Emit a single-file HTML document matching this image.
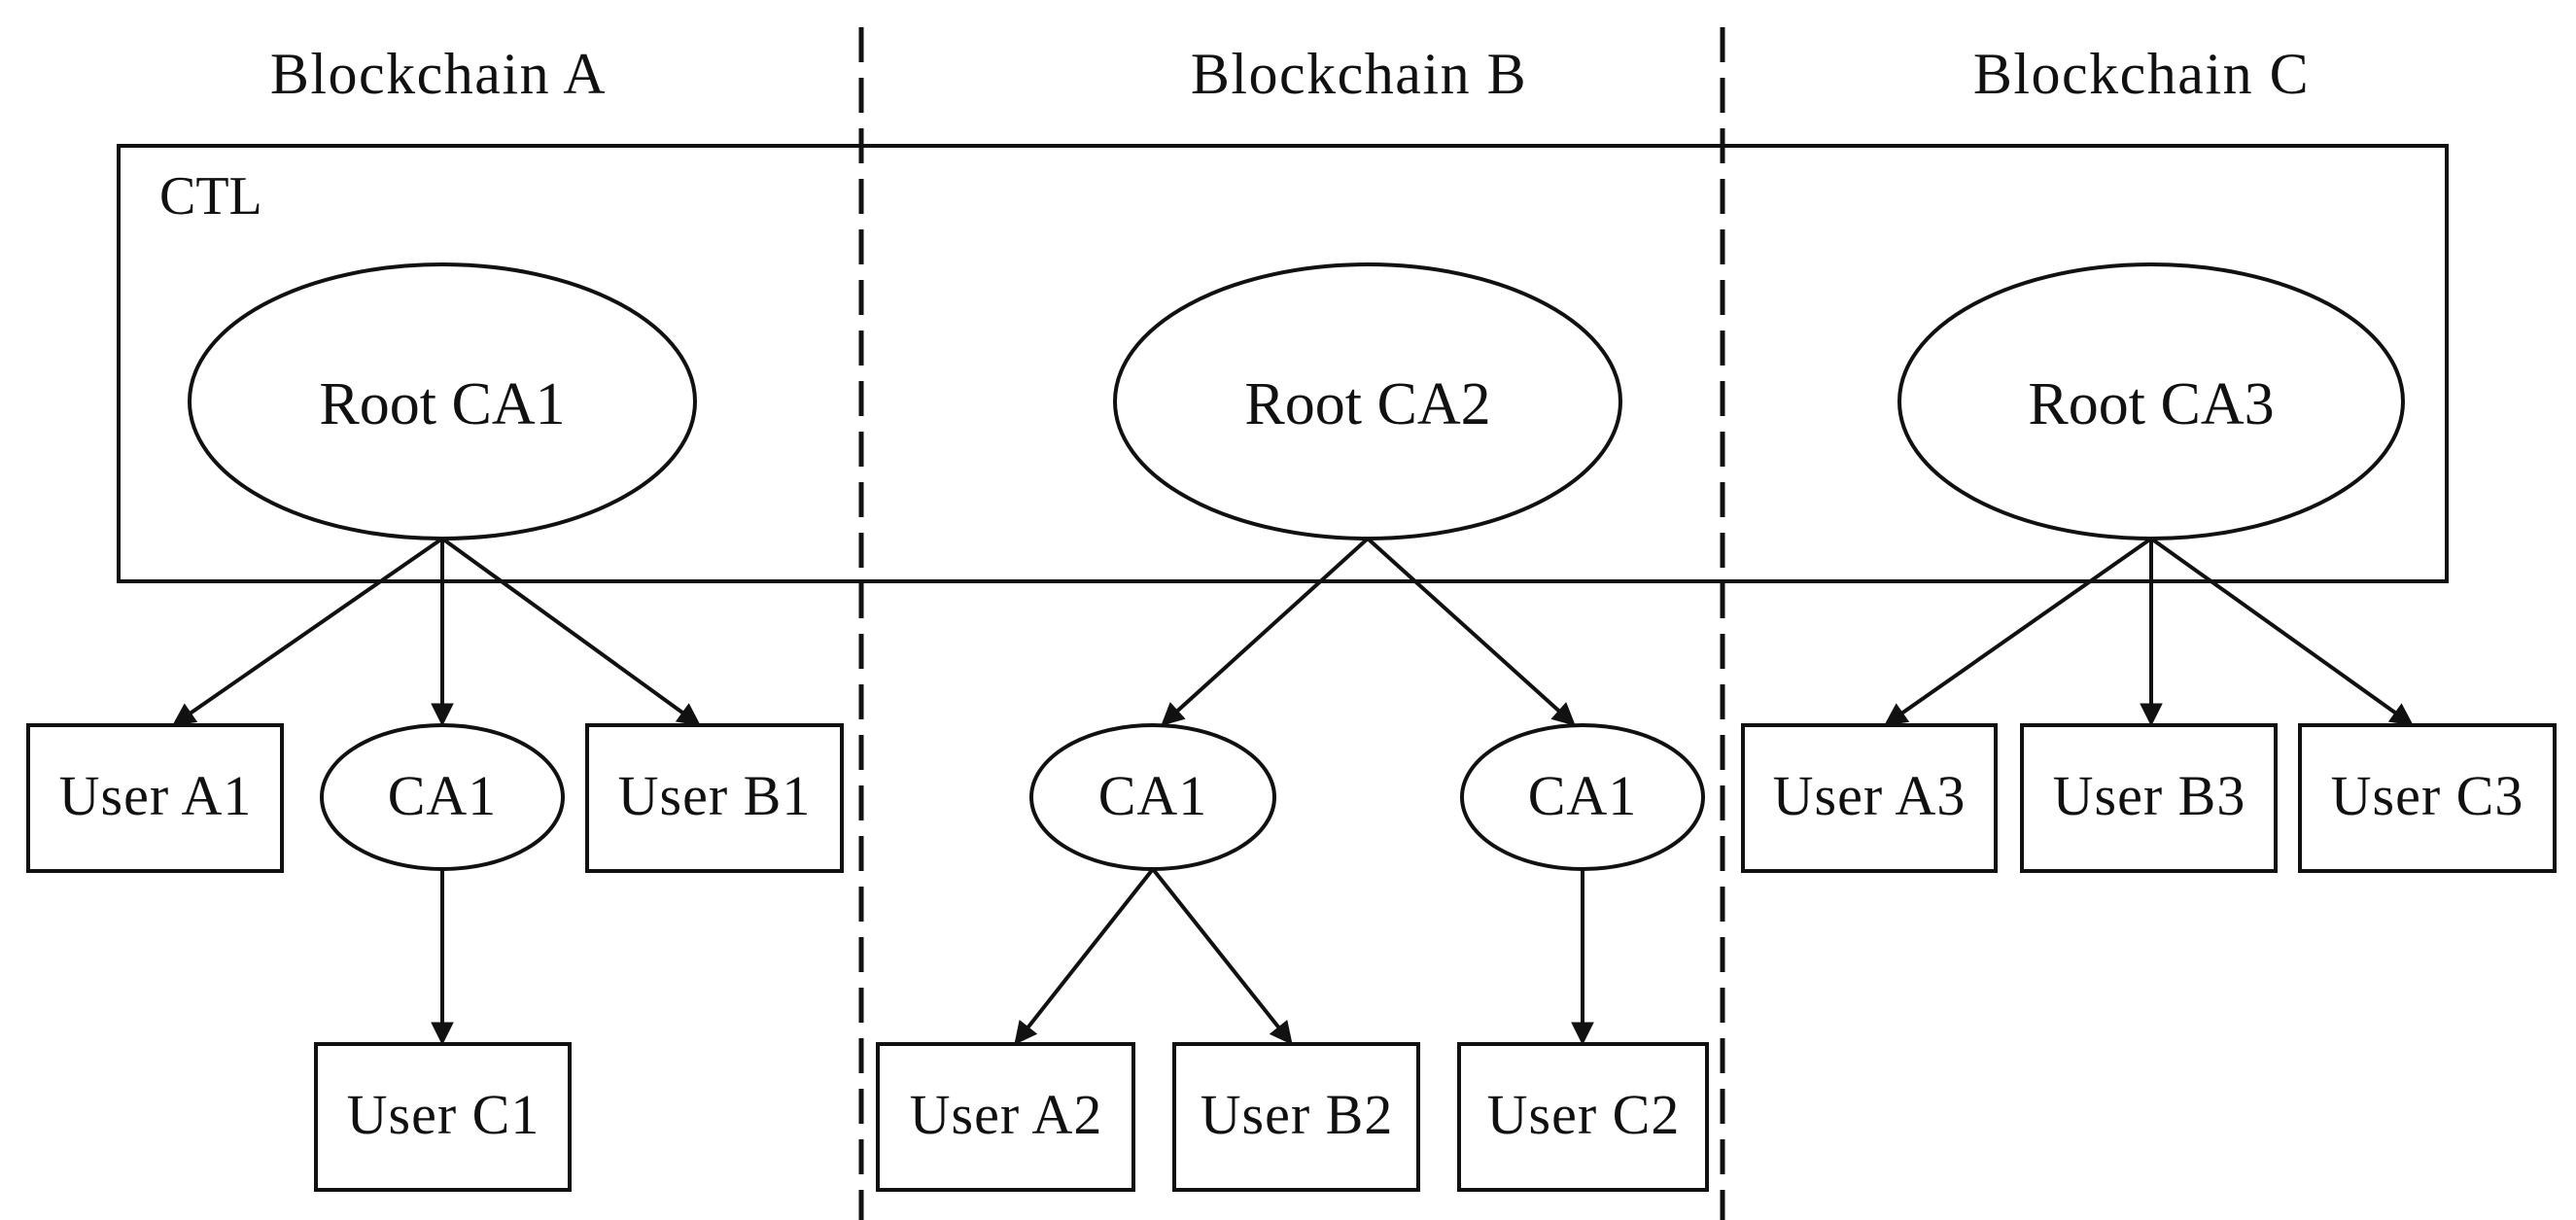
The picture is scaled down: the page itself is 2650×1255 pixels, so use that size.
<!DOCTYPE html>
<html><head><meta charset="utf-8"><style>
html,body{margin:0;padding:0;background:#fff;}
svg{display:block;}
text{font-family:"Liberation Serif",serif;fill:#111;}
</style></head><body>
<svg width="2650" height="1255" viewBox="0 0 2650 1255" xmlns="http://www.w3.org/2000/svg">
<defs>
<marker id="ar" markerWidth="10" markerHeight="10" refX="9" refY="5" orient="auto" markerUnits="userSpaceOnUse" viewBox="0 0 10 10">
</marker>
</defs>
<g stroke="#111" stroke-width="5" stroke-dasharray="36 16" fill="none">
<line x1="886" y1="28" x2="886" y2="1255"/>
<line x1="1772" y1="28" x2="1772" y2="1255"/>
</g>
<g stroke="#111" stroke-width="4" fill="none">
<rect x="122" y="150" width="2395" height="448"/>
<ellipse cx="455" cy="413" rx="260" ry="141" fill="#fff"/>
<ellipse cx="1407" cy="413" rx="260" ry="141" fill="#fff"/>
<ellipse cx="2213" cy="413" rx="259" ry="141" fill="#fff"/>
<rect x="29" y="746" width="261" height="150"/>
<ellipse cx="455" cy="820" rx="124" ry="74"/>
<rect x="604" y="746" width="262" height="150"/>
<rect x="325" y="1074" width="261" height="150"/>
<ellipse cx="1186" cy="820" rx="125" ry="74"/>
<ellipse cx="1628" cy="820" rx="124" ry="74"/>
<rect x="903" y="1074" width="263" height="150"/>
<rect x="1208" y="1074" width="251" height="150"/>
<rect x="1501" y="1074" width="255" height="150"/>
<rect x="1793" y="746" width="260" height="150"/>
<rect x="2080" y="746" width="261" height="150"/>
<rect x="2366" y="746" width="262" height="150"/>
</g>
<g stroke="#111" stroke-width="4" fill="#111" id="arrows"></g>
<script>
(function(){
var g=document.getElementById('arrows');
var A=[[455,554,178,746],[455,554,455,746],[455,554,720,746],[455,894,455,1074],
[1407,554,1195,746],[1407,554,1620,746],[1186,894,1044,1074],[1186,894,1329,1074],[1628,894,1628,1074],
[2213,554,1939,746],[2213,554,2213,746],[2213,554,2482,746]];
var ns='http://www.w3.org/2000/svg';
A.forEach(function(a){
var dx=a[2]-a[0],dy=a[3]-a[1],L=Math.sqrt(dx*dx+dy*dy),ux=dx/L,uy=dy/L,h=22,w=11;
var bx=a[2]-ux*h,by=a[3]-uy*h;
var l=document.createElementNS(ns,'line');
l.setAttribute('x1',a[0]);l.setAttribute('y1',a[1]);l.setAttribute('x2',bx);l.setAttribute('y2',by);
g.appendChild(l);
var p=document.createElementNS(ns,'polygon');
p.setAttribute('points',a[2]+','+a[3]+' '+(bx-uy*w)+','+(by+ux*w)+' '+(bx+uy*w)+','+(by-ux*w));
p.setAttribute('stroke-width','1');
g.appendChild(p);
});
})();
</script>
<g font-size="60" text-anchor="middle" letter-spacing="1.5">
<text x="451" y="96">Blockchain A</text>
<text x="1398" y="96">Blockchain B</text>
<text x="2203" y="96">Blockchain C</text>
</g>
<text x="164" y="220" font-size="56">CTL</text>
<g font-size="62" text-anchor="middle">
<text x="455" y="436">Root CA1</text>
<text x="1407" y="436">Root CA2</text>
<text x="2213" y="436">Root CA3</text>
</g>
<g font-size="58" text-anchor="middle" letter-spacing="1">
<text x="160" y="838">User A1</text>
<text x="455" y="838">CA1</text>
<text x="735" y="838">User B1</text>
<text x="456" y="1166">User C1</text>
<text x="1186" y="838">CA1</text>
<text x="1628" y="838">CA1</text>
<text x="1035" y="1166">User A2</text>
<text x="1334" y="1166">User B2</text>
<text x="1629" y="1166">User C2</text>
<text x="1923" y="838">User A3</text>
<text x="2211" y="838">User B3</text>
<text x="2497" y="838">User C3</text>
</g>
</svg>
</body></html>
